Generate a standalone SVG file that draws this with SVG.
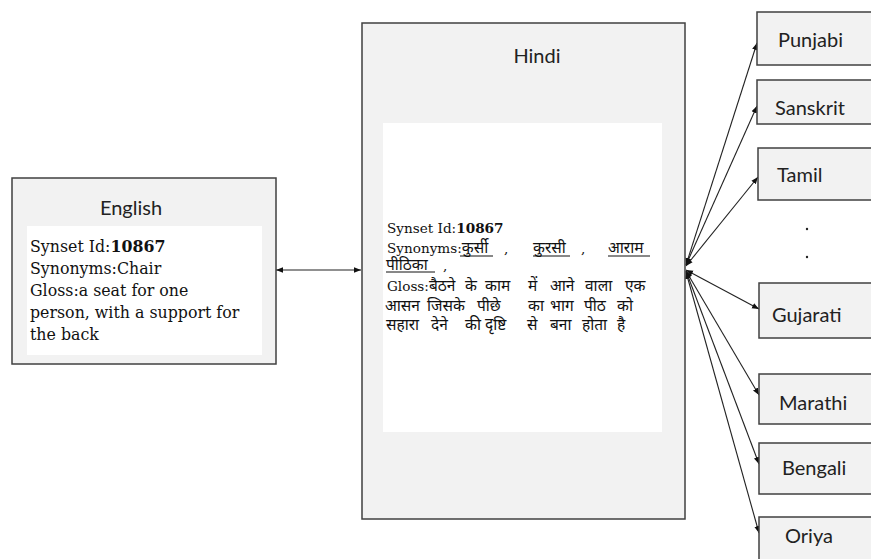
<svg xmlns="http://www.w3.org/2000/svg" width="871" height="559" viewBox="0 0 871 559">
<defs>
<style>
.box{fill:#f2f2f2;stroke:#404040;stroke-width:1.5}
.inner{fill:#ffffff;stroke:none}
.lbl{font-family:Lato,"Open Sans","Liberation Sans",sans-serif;font-size:20px;fill:#222}
.en{font-family:"DejaVu Serif","Liberation Serif",serif;font-size:15.8px;fill:#111}
.hi{font-family:"DejaVu Serif","Liberation Serif",serif;font-size:13.6px;fill:#111}
.dv{font-family:"Noto Sans","DejaVu Sans",sans-serif;font-size:15.5px}
.conn{stroke:#222;stroke-width:1.1;fill:none;marker-start:url(#ah);marker-end:url(#ah)}
.ul{stroke:#111;stroke-width:1}
</style>
<marker id="ah" viewBox="0 0 10 10" refX="10" refY="5" markerWidth="7" markerHeight="7" markerUnits="userSpaceOnUse" orient="auto-start-reverse">
<path d="M0,1 L10,5 L0,9 Z" fill="#111"/>
</marker>
</defs>
<rect width="871" height="559" fill="#fff"/>

<g id="connectors">
<line class="conn" x1="276" y1="270" x2="361" y2="270"/>
<line class="conn" x1="686" y1="265" x2="757" y2="43"/>
<line class="conn" x1="686" y1="265" x2="757" y2="106"/>
<line class="conn" x1="686" y1="266" x2="758" y2="177"/>
<line class="conn" x1="686" y1="270" x2="759" y2="309"/>
<line class="conn" x1="686" y1="271" x2="759" y2="395"/>
<line class="conn" x1="686" y1="271" x2="759" y2="464"/>
<line class="conn" x1="686" y1="272" x2="759" y2="533"/>
</g>

<g id="english">
<rect class="box" x="12" y="178" width="264" height="186"/>
<rect class="inner" x="27" y="226" width="235" height="129"/>
<text class="lbl" x="131" y="215" text-anchor="middle">English</text>
<text class="en" x="30" y="252">Synset Id:<tspan font-weight="bold">10867</tspan></text>
<text class="en" x="30" y="274">Synonyms:Chair</text>
<text class="en" x="30" y="296">Gloss:a seat for one</text>
<text class="en" x="30" y="318">person, with a support for</text>
<text class="en" x="30" y="340">the back</text>
</g>

<g id="hindi">
<rect class="box" x="362" y="23" width="323" height="496"/>
<rect class="inner" x="383" y="123" width="279" height="309"/>
<text class="lbl" x="537" y="63" text-anchor="middle">Hindi</text>
<text class="hi" x="387" y="233">Synset Id:<tspan font-weight="bold">10867</tspan></text>
<text class="hi" y="253"><tspan x="387">Synonyms:</tspan><tspan class="dv">कुर्सी</tspan><tspan x="504">,</tspan><tspan class="dv" x="533">कुरसी</tspan><tspan x="581">,</tspan><tspan class="dv" x="608">आराम</tspan></text>
<line class="ul" x1="460" y1="256" x2="493" y2="256"/>
<line class="ul" x1="533" y1="256" x2="570" y2="256"/>
<line class="ul" x1="608" y1="256" x2="650" y2="256"/>
<text class="hi" y="270"><tspan class="dv" x="386">पीठिका</tspan><tspan x="443">,</tspan></text>
<line class="ul" x1="386" y1="272" x2="435" y2="272"/>
<text class="hi" y="291"><tspan x="387">Gloss:</tspan><tspan class="dv">बैठने</tspan><tspan class="dv" x="465">के</tspan><tspan class="dv" x="485">काम</tspan><tspan class="dv" x="528">में</tspan><tspan class="dv" x="550">आने</tspan><tspan class="dv" x="585">वाला</tspan><tspan class="dv" x="625">एक</tspan></text>
<text class="hi" y="311"><tspan class="dv" x="385">आसन</tspan><tspan class="dv" x="427">जिसके</tspan><tspan class="dv" x="477">पीछे</tspan><tspan class="dv" x="528">का</tspan><tspan class="dv" x="550">भाग</tspan><tspan class="dv" x="584">पीठ</tspan><tspan class="dv" x="617">को</tspan></text>
<text class="hi" y="330"><tspan class="dv" x="386">सहारा</tspan><tspan class="dv" x="431">देने</tspan><tspan class="dv" x="465">की</tspan><tspan class="dv" x="485">दृष्टि</tspan><tspan class="dv" x="527">से</tspan><tspan class="dv" x="550">बना</tspan><tspan class="dv" x="582">होता</tspan><tspan class="dv" x="617">है</tspan></text>
</g>

<g id="punjabi">
<rect class="box" x="757" y="12" width="120" height="53"/>
<text class="lbl" x="778" y="47">Punjabi</text>
</g>
<g id="sanskrit">
<rect class="box" x="757" y="80" width="120" height="44"/>
<text class="lbl" x="775" y="115">Sanskrit</text>
</g>
<g id="tamil">
<rect class="box" x="758" y="148" width="120" height="52"/>
<text class="lbl" x="777" y="182">Tamil</text>
</g>
<g id="dots">
<circle cx="807" cy="229" r="1.2" fill="#222"/>
<circle cx="807" cy="257" r="1.2" fill="#222"/>
</g>
<g id="gujarati">
<rect class="box" x="759" y="283" width="120" height="55"/>
<text class="lbl" x="772" y="322">Gujarati</text>
</g>
<g id="marathi">
<rect class="box" x="759" y="374" width="120" height="50"/>
<text class="lbl" x="779" y="410">Marathi</text>
</g>
<g id="bengali">
<rect class="box" x="759" y="443" width="120" height="51"/>
<text class="lbl" x="782" y="475">Bengali</text>
</g>
<g id="oriya">
<rect class="box" x="759" y="517" width="120" height="60"/>
<text class="lbl" x="785" y="543">Oriya</text>
</g>
</svg>
